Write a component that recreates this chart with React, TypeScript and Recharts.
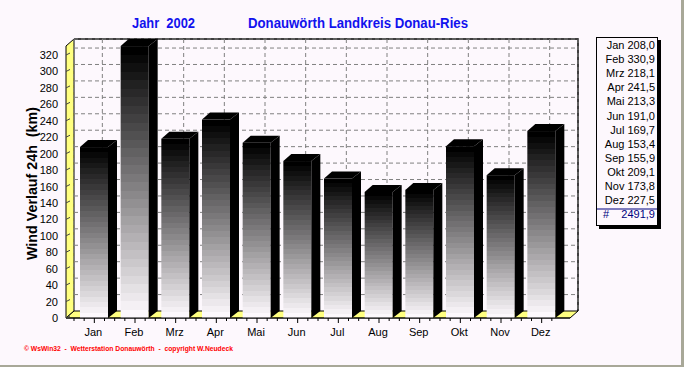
import React from 'react';
import { BarChart, Bar, XAxis, YAxis, CartesianGrid } from 'recharts';

const months = ['Jan', 'Feb', 'Mrz', 'Apr', 'Mai', 'Jun', 'Jul', 'Aug', 'Sep', 'Okt', 'Nov', 'Dez'];
const windKm = [208.0, 330.9, 218.1, 241.5, 213.3, 191.0, 169.7, 153.4, 155.9, 209.1, 173.8, 227.5];
const totalKm = 2491.9;
const yTicks = [0, 20, 40, 60, 80, 100, 120, 140, 160, 180, 200, 220, 240, 260, 280, 300, 320];
const yMax = 331;
const titleYear = 'Jahr  2002';
const titleStation = 'Donauwörth Landkreis Donau-Ries';
const yAxisLabel = 'Wind Verlauf 24h  (km)';
const copyright = '\u00A9 WsWin32  -  Wetterstation Donauwörth  -  copyright W.Neudeck';

const data = months.map((m, i) => ({ month: m, km: windKm[i] }));

const W = 684;
const H = 367;
const YAXIS_W = 60;
const XAXIS_H = 30;
const PL = 66;
const PR = 570;
const PT = 46;
const PB = 318;
const M = { top: PT, right: W - PR, bottom: H - PB - XAXIS_H, left: PL - YAXIS_W };
const DX = 8;
const DY = 7;
const BG = '#FDF8FD';
const YELLOW = '#FFFF80';
const FONT = '"Liberation Sans", Arial, sans-serif';
const BLUE = '#1212EE';
const NAVY = '#000080';

const fmt = (v: number) => v.toFixed(1).replace('.', ',');

const Bar3D = (props: any) => {
  const { x, y, width, height } = props;
  if (x == null || y == null) return null;
  const b = y + height;
  const sw = DX + 1;
  return (
    <g>
      <rect x={x} y={y} width={width} height={height} fill="url(#barGrad)" />
      <polygon points={`${x},${y} ${x + DX},${y - DY} ${x + width + sw},${y - DY} ${x + width},${y}`} fill="#000" />
      <polygon points={`${x + width},${y} ${x + width + sw},${y - DY} ${x + width + sw},${b - DY} ${x + width},${b}`} fill="#000" />
    </g>
  );
};

const hLine = (p: any) => {
  if (p.y1 >= PB - 1) return <g key={p.key} />;
  return (
    <line key={p.key} x1={p.x1 + DX} x2={p.x2 + DX} y1={p.y1 - DY} y2={p.y2 - DY}
      stroke="#808080" strokeDasharray="4 3" strokeWidth={1} />
  );
};
const vLine = (p: any) => (
  <line key={p.key} x1={p.x1 + DX} x2={p.x2 + DX} y1={p.y1 - DY} y2={p.y2 - DY}
    stroke="#808080" strokeDasharray="4 3" strokeWidth={1} />
);

const YTick = (props: any) => {
  const { y, payload } = props;
  return (
    <g>
      <line x1={PL} y1={y} x2={PL + 4} y2={y - 2} stroke="#444" />
      <text x={PL - 8} y={y} dy={4} textAnchor="end" fontSize={11} fontFamily={FONT} fill="#000">
        {payload.value}
      </text>
    </g>
  );
};

const XTick = (props: any) => {
  const { x, payload } = props;
  const q = (PR - PL - 16) / months.length / 4;
  return (
    <g>
      <line x1={x} y1={PB} x2={x} y2={PB + 5} stroke="#000" />
      <line x1={x - q} y1={PB} x2={x - q} y2={PB + 3} stroke="#000" />
      <line x1={x + q} y1={PB} x2={x + q} y2={PB + 3} stroke="#000" />
      <line x1={x - 2 * q} y1={PB} x2={x - 2 * q} y2={PB + 3} stroke="#000" />
      <text x={x - 1} y={PB + 18} textAnchor="middle" fontSize={11} fontFamily={FONT} fill="#000">
        {payload.value}
      </text>
    </g>
  );
};

const steps = 32;
const gradStops: React.ReactNode[] = [];
for (let i = 0; i < steps; i++) {
  const c = Math.round((252 * i) / (steps - 1));
  const col = `rgb(${c},${Math.round(c * 0.985)},${c})`;
  gradStops.push(<stop key={`a${i}`} offset={i / steps} stopColor={col} />);
  gradStops.push(<stop key={`b${i}`} offset={(i + 1) / steps} stopColor={col} />);
}

export default function App() {
  return (
    <div style={{ position: 'absolute', left: 0, top: 0, width: W, height: H, background: BG, overflow: 'hidden' }}>
      <svg width={W} height={H} style={{ position: 'absolute', left: 0, top: 0 }}>
        <defs>
          <linearGradient id="barGrad" x1="0" y1="0" x2="0" y2="1">
            {gradStops}
          </linearGradient>
        </defs>
        <rect x={0} y={0} width={W} height={H} fill={BG} />
        {/* back wall */}
        <rect x={PL + DX} y={PT - DY} width={PR - PL} height={PB - PT} fill={BG} />
        <polyline points={`${PL + DX},${PT - DY} ${PR + DX},${PT - DY} ${PR + DX},${PB - DY}`} fill="none" stroke="#000" strokeWidth={1.5} />
        {/* left wall */}
        <polygon points={`${PL},${PT} ${PL + DX},${PT - DY} ${PL + DX},${PB - DY} ${PL},${PB}`} fill={YELLOW} stroke="#000" strokeWidth={1} />
        {/* floor */}
        <polygon points={`${PL},${PB} ${PL + DX},${PB - DY} ${PR + DX},${PB - DY} ${PR},${PB}`} fill={YELLOW} stroke="#000" strokeWidth={1} />
        {/* titles */}
        <text x={163.5} y={28} textAnchor="middle" fontSize={14} fontWeight="bold" fontFamily={FONT} fill={BLUE}
          textLength={63} lengthAdjust="spacingAndGlyphs" style={{ whiteSpace: 'pre' }}>{titleYear}</text>
        <text x={358} y={28} textAnchor="middle" fontSize={14} fontWeight="bold" fontFamily={FONT} fill={BLUE}
          textLength={220} lengthAdjust="spacingAndGlyphs">{titleStation}</text>
        {/* y label */}
        <text x={0} y={0} transform={`translate(37,183.5) rotate(-90)`} textAnchor="middle" fontSize={15} fontWeight="bold"
          fontFamily={FONT} fill="#000" textLength={153} lengthAdjust="spacingAndGlyphs" style={{ whiteSpace: 'pre' }}>{yAxisLabel}</text>
        {/* legend box */}
        <rect x={599} y={40} width={62} height={189} fill="#000" />
        <rect x={596.5} y={37.5} width={61} height={188} fill={BG} stroke="#000" strokeWidth={1} />
        {months.map((m, i) => (
          <text key={m} x={655} y={49 + i * 14.1} textAnchor="end" fontSize={11} fontFamily={FONT} fill="#000">
            {`${m} ${fmt(windKm[i])}`}
          </text>
        ))}
        <line x1={597} x2={657} y1={209} y2={209} stroke={NAVY} strokeWidth={1} />
        <text x={603} y={218} fontSize={11} fontFamily={FONT} fill={NAVY}>#</text>
        <text x={655} y={218} textAnchor="end" fontSize={11} fontFamily={FONT} fill={NAVY}>{fmt(totalKm)}</text>
        {/* copyright */}
        <text x={24} y={351} fontSize={8} fontWeight="bold" fontFamily={FONT} fill="#FF0000"
          textLength={209} lengthAdjust="spacingAndGlyphs" style={{ whiteSpace: 'pre' }}>{copyright}</text>
        {/* frame */}
        <rect x={681} y={0} width={3} height={H} fill="#A8A898" />
        <rect x={0} y={365} width={W} height={2} fill="#A8A898" />
      </svg>
      <div style={{ position: 'absolute', left: 0, top: 0 }}>
        <BarChart width={W} height={H} data={data} margin={M} barSize={28}>
          <CartesianGrid horizontal={hLine} vertical={vLine} />
          <XAxis dataKey="month" height={XAXIS_H} padding={{ left: 8, right: 8 }} axisLine={{ stroke: '#000', strokeWidth: 1 }}
            tickLine={false} tick={<XTick />} interval={0} />
          <YAxis width={YAXIS_W} domain={[0, yMax]} ticks={yTicks} axisLine={false} tickLine={false} tick={<YTick />} interval={0} />
          <Bar dataKey="km" shape={Bar3D} isAnimationActive={false} />
        </BarChart>
      </div>
    </div>
  );
}
